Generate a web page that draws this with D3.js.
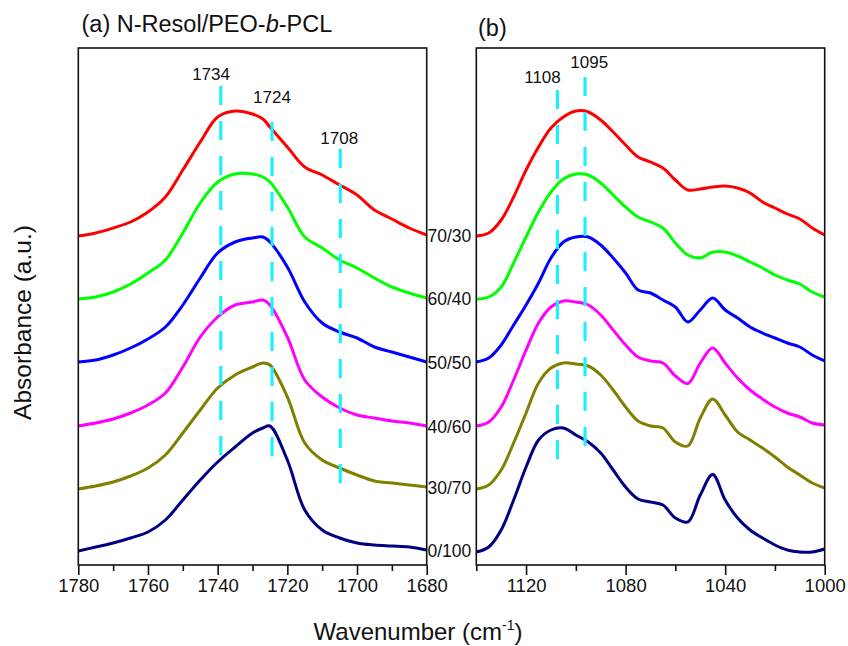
<!DOCTYPE html>
<html><head><meta charset="utf-8">
<script src="https://cdn.jsdelivr.net/npm/d3@7"></script>
<style>body{margin:0;background:#fff}svg{display:block}</style>
</head><body><svg id="c" width="848" height="646"></svg>
<script>
// ---------- data ----------
const waveA = [1780,1775,1770,1765,1760,1755,1750,1745,1740,1735,1730,1727,1725,1720,1715,1710,1705,1700,1695,1690,1685,1680];
const waveB = [1140,1135,1130,1125,1120,1115,1110,1105,1100,1095,1090,1085,1080,1075,1070,1065,1060,1055,1050,1045,1040,1035,1030,1025,1020,1015,1010,1005,1000];
const ratios = ["70/30","60/40","50/50","40/60","30/70","0/100"];
const colors = ["#ff0000","#00ff00","#0000ff","#ff00ff","#808000","#000080"];

const a7030 = [3.29,3.32,3.37,3.43,3.53,3.68,3.95,4.23,4.48,4.54,4.51,4.46,4.38,4.18,3.98,3.90,3.80,3.70,3.55,3.46,3.37,3.30];
const a6040 = [2.66,2.68,2.73,2.81,2.92,3.05,3.32,3.62,3.83,3.91,3.91,3.88,3.83,3.58,3.28,3.17,3.05,2.97,2.87,2.78,2.72,2.67];
const a5050 = [2.03,2.05,2.10,2.17,2.26,2.38,2.60,2.87,3.12,3.23,3.27,3.28,3.23,2.98,2.63,2.42,2.33,2.27,2.18,2.13,2.08,2.03];
const a4060 = [1.39,1.42,1.46,1.52,1.60,1.72,1.98,2.28,2.48,2.60,2.63,2.65,2.60,2.28,1.85,1.68,1.57,1.50,1.47,1.44,1.42,1.39];
const a3070 = [0.76,0.79,0.83,0.89,0.97,1.10,1.32,1.55,1.77,1.90,1.98,2.02,2.00,1.68,1.22,1.05,0.97,0.90,0.84,0.82,0.80,0.78];
const a0100 = [0.14,0.18,0.22,0.27,0.33,0.45,0.65,0.85,1.03,1.18,1.32,1.37,1.39,1.05,0.55,0.35,0.27,0.22,0.20,0.19,0.18,0.15];

const b7030 = [3.29,3.32,3.45,3.68,3.95,4.18,4.37,4.48,4.54,4.53,4.45,4.33,4.20,4.08,4.03,3.97,3.85,3.75,3.76,3.78,3.79,3.77,3.72,3.63,3.57,3.51,3.46,3.37,3.30];
const b6040 = [2.66,2.68,2.78,3.02,3.28,3.53,3.73,3.86,3.91,3.90,3.82,3.70,3.58,3.48,3.43,3.37,3.22,3.10,3.07,3.13,3.13,3.09,3.03,2.97,2.90,2.85,2.81,2.73,2.68];
const b5050 = [2.03,2.07,2.20,2.40,2.60,2.82,3.07,3.23,3.28,3.28,3.20,3.07,2.92,2.75,2.72,2.65,2.58,2.43,2.55,2.67,2.55,2.47,2.38,2.32,2.27,2.22,2.18,2.10,2.04];
const b4060 = [1.39,1.43,1.58,1.85,2.15,2.42,2.58,2.64,2.63,2.60,2.50,2.35,2.20,2.08,2.04,2.02,1.89,1.815,2.02,2.17,2.02,1.87,1.75,1.66,1.58,1.52,1.48,1.42,1.40];
const b3070 = [0.76,0.80,0.95,1.22,1.52,1.82,1.97,2.02,2.01,1.99,1.90,1.75,1.58,1.44,1.39,1.37,1.23,1.19,1.47,1.66,1.50,1.33,1.25,1.17,1.08,0.98,0.90,0.82,0.77];
const b0100 = [0.13,0.18,0.35,0.65,0.98,1.25,1.35,1.37,1.30,1.23,1.12,0.95,0.78,0.66,0.63,0.60,0.47,0.43,0.70,0.905,0.65,0.47,0.35,0.27,0.20,0.15,0.13,0.13,0.16];

const ticksA = [1780,1760,1740,1720,1700,1680];
const minorA = [1770,1750,1730,1710,1690];
const ticksB = [1120,1080,1040,1000];
const minorB = [1140,1100,1060,1020];

// marker lines: position, top, bottom, label, label position x, label y
const markA = [1739.1, 1724.4, 1704.8];
const markATop = [4.79, 4.43, 4.16];
const markABottom = [1.08, 1.08, 0.80];
const markALabel = ["1734","1724","1708"];
const markALabelX = [1741.9, 1724.4, 1705.1];
const markALabelY = [4.85, 4.62, 4.21];

const markB = [1107.4, 1096.3];
const markBTop = [4.75, 4.88];
const markBBottom = [1.03, 1.17];
const markBLabel = ["1108","1095"];
const markBLabelX = [1113.4, 1094.6];
const markBLabelY = [4.82, 4.97];

// ---------- drawing ----------
const FONT = "'Liberation Sans', Arial, Helvetica, sans-serif";
const svg = d3.select("#c");
svg.append("rect").attr("width",848).attr("height",646).attr("fill","#fff");

const y = d3.scaleLinear().domain([0,5.17]).range([565,48]);
const xA = d3.scaleLinear().domain([1780,1680]).range([78.3,426.7]);
const xB = d3.scaleLinear().domain([1140,1000]).range([476.3,824.7]);

const seriesA = [a7030,a6040,a5050,a4060,a3070,a0100];
const seriesB = [b7030,b6040,b5050,b4060,b3070,b0100];

function panel(x, waves, series, ticks, minor, mk, mkTop, mkBot, mkLab, mkLabX, mkLabY, id){
  const [x0,x1] = x.range();
  svg.append("clipPath").attr("id",id).append("rect")
    .attr("x",x0).attr("y",48).attr("width",x1-x0).attr("height",517);
  const g = svg.append("g").attr("clip-path",`url(#${id})`);
  const line = d3.line().x(d=>x(d[0])).y(d=>y(d[1])).curve(d3.curveCatmullRom.alpha(0.5));
  series.forEach((s,i)=>{
    g.append("path").datum(waves.map((w,j)=>[w,s[j]]))
      .attr("d",line).attr("fill","none").attr("stroke",colors[i])
      .attr("stroke-width",3).attr("stroke-linejoin","round").attr("stroke-linecap","round");
  });
  mk.forEach((m,i)=>{
    svg.append("line").attr("x1",x(m)).attr("x2",x(m))
      .attr("y1",y(mkTop[i])).attr("y2",y(mkBot[i]))
      .attr("stroke","#1ff0ff").attr("stroke-width",3.2)
      .attr("stroke-dasharray","19,16");
    svg.append("text").attr("x",x(mkLabX[i])).attr("y",y(mkLabY[i]))
      .attr("text-anchor","middle").attr("font-family",FONT).attr("font-size",17)
      .attr("fill","#111").text(mkLab[i]);
  });
  // frame
  svg.append("rect").attr("x",x0).attr("y",48).attr("width",x1-x0).attr("height",517)
    .attr("fill","none").attr("stroke","#111").attr("stroke-width",1.6);
  // axis
  const ax = svg.append("g").attr("transform","translate(0,565)")
    .call(d3.axisBottom(x).tickValues(ticks).tickSize(10).tickPadding(4).tickFormat(d3.format("d")));
  ax.select(".domain").remove();
  ax.selectAll(".tick line").attr("stroke","#111").attr("stroke-width",1.6);
  ax.selectAll(".tick text").attr("font-family",FONT).attr("font-size",18.5).attr("fill","#111");
  const mn = svg.append("g").attr("transform","translate(0,565)")
    .call(d3.axisBottom(x).tickValues(minor).tickSize(6).tickFormat(""));
  mn.select(".domain").remove();
  mn.selectAll(".tick line").attr("stroke","#111").attr("stroke-width",1.6);
}

panel(xA, waveA, seriesA, ticksA, minorA, markA, markATop, markABottom, markALabel, markALabelX, markALabelY, "clipA");
panel(xB, waveB, seriesB, ticksB, minorB, markB, markBTop, markBBottom, markBLabel, markBLabelX, markBLabelY, "clipB");

// ratio labels
ratios.forEach((r,i)=>{
  const s = seriesA[i];
  svg.append("text").attr("x",427.5).attr("y",y(s[s.length-1])+6.5)
    .attr("font-family",FONT).attr("font-size",17.5).attr("fill","#111").text(r);
});

// titles
const ta = svg.append("text").attr("x",81.5).attr("y",31.5)
  .attr("font-family",FONT).attr("font-size",23.5).attr("fill","#111");
ta.append("tspan").text("(a) N-Resol/PEO-");
ta.append("tspan").attr("font-style","italic").text("b");
ta.append("tspan").text("-PCL");
svg.append("text").attr("x",478).attr("y",36).attr("font-family",FONT)
  .attr("font-size",23.5).attr("fill","#111").text("(b)");

// axis titles
svg.append("text").attr("transform","translate(31,322.5) rotate(-90)")
  .attr("text-anchor","middle").attr("font-family",FONT).attr("font-size",24.5)
  .attr("fill","#111").text("Absorbance (a.u.)");
const xt = svg.append("text").attr("x",418).attr("y",640).attr("text-anchor","middle")
  .attr("font-family",FONT).attr("font-size",24).attr("fill","#111");
xt.append("tspan").text("Wavenumber (cm");
xt.append("tspan").attr("font-size",14).attr("dy",-10).text("-1");
xt.append("tspan").attr("dy",10).text(")");
</script></body></html>
